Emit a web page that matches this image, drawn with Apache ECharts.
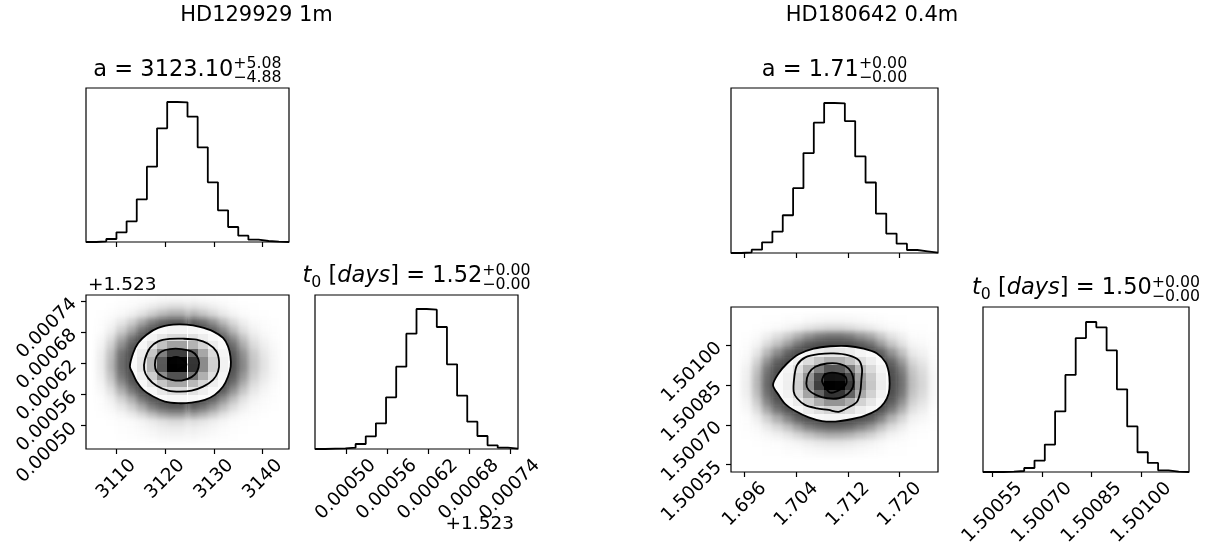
<!DOCTYPE html>
<html>
<head>
<meta charset="utf-8">
<script src="https://cdn.jsdelivr.net/npm/echarts@6.0.0/dist/echarts.min.js"></script>
<style>
  html, body { margin: 0; padding: 0; background: #fff; }
  #stage { position: relative; width: 1215px; height: 552px; overflow: hidden; background: #fff; }
  .cloud { position: absolute; overflow: hidden; }
  .cloud > div { position: absolute; left: 0; top: 0; width: 100%; height: 100%; filter: blur(2.5px); }
  #main { position: absolute; left: 0; top: 0; width: 1215px; height: 552px; }
</style>
</head>
<body>
<div id="stage">
  <div class="cloud" id="cloudL"><div id="cloudLc"></div></div>
  <div class="cloud" id="cloudR"><div id="cloudRc"></div></div>
  <div id="main"></div>
</div>
<script>
// ---- posterior samples, binned (20 bins over each parameter's full range) ----
const leftAHist   = [0, 2, 9, 29, 62, 128, 226, 341, 420, 419, 376, 284, 179, 95, 45, 19, 7, 3, 1, 0];
const leftT0Hist  = [0, 1, 2, 4, 15, 38, 77, 155, 247, 346, 420, 418, 366, 254, 160, 82, 39, 11, 4, 1];
const rightAHist  = [0, 2, 10, 32, 64, 113, 194, 299, 390, 449, 448, 395, 289, 211, 118, 58, 28, 9, 5, 1];
const rightT0Hist = [0, 0, 1, 3, 12, 34, 82, 181, 290, 400, 448, 432, 363, 247, 136, 59, 27, 5, 1, 0];

// sample ranges
const leftARange   = [3103.80, 3145.39];
const leftT0Range  = [1.523455, 1.523752];
const rightARange  = [1.69388, 1.72594];
const rightT0Range = [1.500522, 1.501144];

// tick values
const leftATicks   = [3110, 3120, 3130, 3140];
const leftT0Ticks  = [1.52350, 1.52356, 1.52362, 1.52368, 1.52374];
const leftT0Offset = 1.523;
const rightATicks  = [1.696, 1.704, 1.712, 1.720];
const rightT0Ticks = [1.50055, 1.50070, 1.50085, 1.50100];

// median, +err, -err
const leftAStat   = [3123.10, 5.08, 4.88];
const leftT0Stat  = [1.523615, 0.00003, 0.00003];
const rightAStat  = [1.7098, 0.0042, 0.0041];
const rightT0Stat = [1.500855, 0.00006, 0.00006];

const starNames = ['HD129929 1m', 'HD180642 0.4m'];

// 2-D credible contours (0.5, 1, 1.5, 2 sigma), outermost first: [a, t0]
const leftContours = [
  [[3112.80,1.5236141],[3113.47,1.5236401],[3114.49,1.5236594],[3116.21,1.5236755],[3118.58,1.5236885],[3121.65,1.5236948],[3124.39,1.5236948],[3127.11,1.5236904],[3129.83,1.5236819],[3131.88,1.5236691],[3132.90,1.5236528],[3133.39,1.5236335],[3133.45,1.5236141],[3132.90,1.5235948],[3131.88,1.5235754],[3130.18,1.5235594],[3128.14,1.5235497],[3125.42,1.5235445],[3122.68,1.5235433],[3119.96,1.5235464],[3117.56,1.5235561],[3115.52,1.5235690],[3114.17,1.5235851],[3113.35,1.5236014]],
  [[3115.73,1.5236077],[3115.86,1.5236271],[3116.89,1.5236497],[3118.58,1.5236625],[3120.98,1.5236672],[3123.70,1.5236677],[3126.44,1.5236658],[3128.81,1.5236581],[3130.53,1.5236432],[3131.06,1.5236238],[3130.86,1.5236045],[3129.83,1.5235884],[3127.79,1.5235754],[3125.42,1.5235677],[3123.02,1.5235657],[3120.63,1.5235677],[3118.26,1.5235768],[3116.54,1.5235917]],
  [[3117.91,1.5236174],[3118.26,1.5236335],[3119.28,1.5236432],[3120.98,1.5236478],[3123.37,1.5236478],[3125.42,1.5236432],[3126.56,1.5236335],[3126.97,1.5236207],[3126.56,1.5236045],[3125.42,1.5235936],[3123.37,1.5235870],[3121.33,1.5235884],[3119.48,1.5235948],[3118.26,1.5236045]],
  [[3120.63,1.5236219],[3121.33,1.5236304],[3122.68,1.5236323],[3123.70,1.5236271],[3124.39,1.5236174],[3123.37,1.5236110],[3122.00,1.5236077],[3120.98,1.5236130]]
];
const rightContours = [
  [[1.700388,1.500850],[1.701265,1.500894],[1.702556,1.500931],[1.704361,1.500966],[1.706684,1.500987],[1.709265,1.500996],[1.711846,1.500997],[1.714426,1.500987],[1.716491,1.500969],[1.717781,1.500937],[1.718297,1.500900],[1.718452,1.500856],[1.718297,1.500818],[1.717626,1.500783],[1.716491,1.500756],[1.714426,1.500733],[1.711846,1.500718],[1.710039,1.500712],[1.707975,1.500714],[1.705910,1.500728],[1.703846,1.500752],[1.702297,1.500778],[1.701265,1.500812]],
  [[1.703587,1.500825],[1.703691,1.500881],[1.704104,1.500925],[1.705394,1.500954],[1.707458,1.500966],[1.709781,1.500969],[1.712103,1.500962],[1.713652,1.500944],[1.714169,1.500912],[1.714065,1.500868],[1.713910,1.500825],[1.713395,1.500787],[1.712103,1.500766],[1.710555,1.500749],[1.709007,1.500756],[1.707201,1.500762],[1.705394,1.500774],[1.704104,1.500800]],
  [[1.705549,1.500856],[1.705910,1.500894],[1.706943,1.500919],[1.708749,1.500931],[1.710813,1.500929],[1.712103,1.500912],[1.712775,1.500881],[1.712775,1.500843],[1.711949,1.500816],[1.710555,1.500800],[1.708749,1.500800],[1.707097,1.500812],[1.705910,1.500831]],
  [[1.707975,1.500866],[1.708491,1.500891],[1.710039,1.500896],[1.711588,1.500881],[1.711742,1.500856],[1.710813,1.500833],[1.709265,1.500821],[1.708491,1.500841]]
];

// ---- layout ----
const PANEL = {
  lTop:  [86, 88, 203, 154],
  l2d:   [86, 295, 203, 154],
  lSide: [315, 295, 203, 154],
  rTop:  [731, 88, 207, 165],
  r2d:   [731, 307, 207, 165],
  rSide: [983, 307, 206, 165]
};
const FAMILY = 'DejaVu Sans';
const TICK_FS = 18.5, TITLE_FS = 22.5, SCRIPT_FS = 15.75, SUPTITLE_FS = 21;

// ---- helpers ----
const maxOf = a => Math.max.apply(null, a);

// joint density table of the two (uncorrelated) parameters, one cell per bin pair
function jointCells(hx, hy, xr, yr) {
  const mx = maxOf(hx), my = maxOf(hy);
  const dx = (xr[1] - xr[0]) / hx.length, dy = (yr[1] - yr[0]) / hy.length;
  const cells = [];
  for (let i = 0; i < hx.length; i++) {
    for (let j = 0; j < hy.length; j++) {
      cells.push([xr[0] + (i + 0.5) * dx, yr[0] + (j + 0.5) * dy, (hx[i] / mx) * (hy[j] / my), dx, dy]);
    }
  }
  return cells;
}

function cellSeries(xi, yi, cells, colorOf, z) {
  return {
    type: 'custom', xAxisIndex: xi, yAxisIndex: yi, z: z, clip: true, silent: true,
    data: cells,
    renderItem: function (params, api) {
      const cx = api.value(0), cy = api.value(1), t = api.value(2), dx = api.value(3), dy = api.value(4);
      const p0 = api.coord([cx - dx / 2, cy - dy / 2]);
      const p1 = api.coord([cx + dx / 2, cy + dy / 2]);
      const x0 = Math.round(p0[0]), x1 = Math.round(p1[0]);
      const y0 = Math.round(p1[1]), y1 = Math.round(p0[1]);
      return { type: 'rect', shape: { x: x0, y: y0, width: x1 - x0, height: y1 - y0 }, style: { fill: colorOf(t) } };
    }
  };
}

function contourSeries(xi, yi, contours, filled, z) {
  const list = filled ? contours.slice(0, 1) : contours;
  return {
    type: 'custom', xAxisIndex: xi, yAxisIndex: yi, z: z, clip: true, silent: true,
    data: list.map((c, k) => [c[0][0], c[0][1], k]),
    renderItem: function (params, api) {
      const pts = list[api.value(2)].map(p => api.coord(p));
      return {
        type: 'polygon',
        shape: { points: pts, smooth: 0.3 },
        style: filled ? { fill: '#fff', stroke: null } : { fill: null, stroke: '#000', lineWidth: 1.8 }
      };
    }
  };
}

function histOutline(h, r) {
  const w = (r[1] - r[0]) / h.length;
  const pts = [[r[0], 0]];
  h.forEach((c, i) => pts.push([r[0] + i * w, c]));
  pts.push([r[1], h[h.length - 1]]);
  pts.push([r[1], 0]);
  return pts;
}

function histSeries(xi, yi, h, r) {
  return {
    type: 'line', xAxisIndex: xi, yAxisIndex: yi, data: histOutline(h, r), step: 'end',
    symbol: 'none', silent: true, z: 3, lineStyle: { color: '#000', width: 1.8 }
  };
}

function gridOf(p) {
  return { left: p[0], top: p[1], width: p[2], height: p[3], show: true, borderColor: '#000', borderWidth: 1.2, backgroundColor: 'transparent', containLabel: false };
}

// text measuring for rotated tick labels and titles with stacked super/subscripts
const mctx = document.createElement('canvas').getContext('2d');
function fontStr(size, italic) { return (italic ? 'italic ' : '') + size + 'px "' + FAMILY + '"'; }
function textWidth(text, size, italic) { mctx.font = fontStr(size, italic); return mctx.measureText(text).width; }

function tickedAxis(gi, range, ticks, labelOpt) {
  return {
    type: 'value', gridIndex: gi, min: range[0], max: range[1],
    axisLine: { show: false }, splitLine: { show: false },
    axisTick: { show: true, inside: false, length: 5, lineStyle: { color: '#000', width: 1.2 }, customValues: ticks },
    axisLabel: labelOpt
      ? Object.assign({ show: true, customValues: ticks, rotate: 45, fontSize: TICK_FS, fontFamily: FAMILY, color: '#000' }, labelOpt)
      : { show: false }
  };
}
// 45-degree labels whose rotated box is centred under the tick
function centeredBottomLabel(formatter, sample) {
  const half = 0.3536 * (textWidth(formatter(sample), TICK_FS) + 0.7 * TICK_FS);
  return { formatter: formatter, align: 'center', verticalAlign: 'middle', margin: 9 + half };
}
function hiddenAxis(gi, max) {
  return { type: 'value', gridIndex: gi, min: 0, max: max, show: false };
}

function textEl(text, x, baseline, size, italic, align) {
  return {
    type: 'text', x: x, y: baseline - 0.346 * size, silent: true,
    style: { text: text, font: fontStr(size, italic), fill: '#000', align: align || 'left', textAlign: align || 'left', verticalAlign: 'middle', textVerticalAlign: 'middle' }
  };
}
function statTitle(pieces, stat, cx, baseline) {
  const sup = '+' + stat[1].toFixed(2), sub = '\u2212' + stat[2].toFixed(2);
  const widths = pieces.map(p => textWidth(p.text, p.size || TITLE_FS, p.italic));
  const wMain = widths.reduce((a, b) => a + b, 0);
  const wScript = Math.max(textWidth(sup, SCRIPT_FS), textWidth(sub, SCRIPT_FS));
  let x = cx - (wMain + wScript) / 2;
  const els = [];
  pieces.forEach((p, k) => { els.push(textEl(p.text, x, baseline + (p.dy || 0), p.size || TITLE_FS, p.italic)); x += widths[k]; });
  els.push(textEl(sup, x, baseline - 8, SCRIPT_FS));
  els.push(textEl(sub, x, baseline + 6, SCRIPT_FS));
  return els;
}
function t0Pieces(v) {
  return [
    { text: 't', italic: true },
    { text: '0', size: SCRIPT_FS, dy: 4 },
    { text: ' [' },
    { text: 'days', italic: true },
    { text: '] = ' + v.toFixed(2) }
  ];
}
const centerX = p => p[0] + p[2] / 2;

// ---- main figure ----
const pcolor = t => { const v = Math.round(255 * (1 - t)); return 'rgba(' + v + ',' + v + ',' + v + ',' + t.toFixed(4) + ')'; };
const leftCells = jointCells(leftAHist, leftT0Hist, leftARange, leftT0Range);
const rightCells = jointCells(rightAHist, rightT0Hist, rightARange, rightT0Range);

const fmtA = v => v.toFixed(0);
const fmtT0L = v => (v - leftT0Offset).toFixed(5);
const fmtAR = v => v.toFixed(3);
const fmtT0R = v => v.toFixed(5);

const graphics = [].concat(
  [textEl(starNames[0], 256.5, 22.7, SUPTITLE_FS, false, 'center'),
   textEl(starNames[1], 872, 22.7, SUPTITLE_FS, false, 'center')],
  statTitle([{ text: 'a = ' + leftAStat[0].toFixed(2) }], leftAStat, centerX(PANEL.lTop), PANEL.lTop[1] - 10.5),
  statTitle(t0Pieces(leftT0Stat[0]), leftT0Stat, centerX(PANEL.lSide), PANEL.lSide[1] - 11),
  statTitle([{ text: 'a = ' + rightAStat[0].toFixed(2) }], rightAStat, centerX(PANEL.rTop), PANEL.rTop[1] - 10.5),
  statTitle(t0Pieces(rightT0Stat[0]), rightT0Stat, centerX(PANEL.rSide), PANEL.rSide[1] - 11),
  [textEl('+' + leftT0Offset.toFixed(3), PANEL.l2d[0] + 2, PANEL.l2d[1] - 3.5, TICK_FS, false, 'left'),
   textEl('+' + leftT0Offset.toFixed(3), PANEL.lSide[0] + PANEL.lSide[2] - 4, 531, TICK_FS, false, 'right')]
);

const option = {
  animation: false,
  backgroundColor: 'transparent',
  grid: [gridOf(PANEL.lTop), gridOf(PANEL.l2d), gridOf(PANEL.lSide), gridOf(PANEL.rTop), gridOf(PANEL.r2d), gridOf(PANEL.rSide)],
  xAxis: [
    tickedAxis(0, leftARange, leftATicks, null),
    tickedAxis(1, leftARange, leftATicks, centeredBottomLabel(fmtA, leftATicks[0])),
    tickedAxis(2, leftT0Range, leftT0Ticks, centeredBottomLabel(fmtT0L, leftT0Ticks[0])),
    tickedAxis(3, rightARange, rightATicks, null),
    tickedAxis(4, rightARange, rightATicks, centeredBottomLabel(fmtAR, rightATicks[0])),
    tickedAxis(5, rightT0Range, rightT0Ticks, centeredBottomLabel(fmtT0R, rightT0Ticks[0]))
  ],
  yAxis: [
    hiddenAxis(0, 1.1 * maxOf(leftAHist)),
    tickedAxis(1, leftT0Range, leftT0Ticks, { formatter: fmtT0L, margin: 12 }),
    hiddenAxis(2, 1.1 * maxOf(leftT0Hist)),
    hiddenAxis(3, 1.1 * maxOf(rightAHist)),
    tickedAxis(4, rightT0Range, rightT0Ticks, { formatter: fmtT0R, margin: 12 }),
    hiddenAxis(5, 1.1 * maxOf(rightT0Hist))
  ],
  graphic: { elements: graphics },
  series: [
    histSeries(0, 0, leftAHist, leftARange),
    histSeries(2, 2, leftT0Hist, leftT0Range),
    histSeries(3, 3, rightAHist, rightARange),
    histSeries(5, 5, rightT0Hist, rightT0Range),
    contourSeries(1, 1, leftContours, true, 1),
    cellSeries(1, 1, leftCells, pcolor, 2),
    contourSeries(1, 1, leftContours, false, 3),
    contourSeries(4, 4, rightContours, true, 1),
    cellSeries(4, 4, rightCells, pcolor, 2),
    contourSeries(4, 4, rightContours, false, 3)
  ]
};
echarts.init(document.getElementById('main'), null, { renderer: 'canvas' }).setOption(option);

// ---- sample cloud beneath the 2-D panels ----
const haze = t => 'rgba(35,35,35,' + (1 - Math.exp(-18 * t)).toFixed(4) + ')';
function cloudChart(wrapId, innerId, p, xr, yr, cells) {
  const wrap = document.getElementById(wrapId);
  wrap.style.left = p[0] + 'px'; wrap.style.top = p[1] + 'px';
  wrap.style.width = p[2] + 'px'; wrap.style.height = p[3] + 'px';
  const chart = echarts.init(document.getElementById(innerId), null, { width: p[2], height: p[3] });
  chart.setOption({
    animation: false,
    grid: { left: 0, top: 0, right: 0, bottom: 0, containLabel: false },
    xAxis: { type: 'value', min: xr[0], max: xr[1], show: false },
    yAxis: { type: 'value', min: yr[0], max: yr[1], show: false },
    series: [cellSeries(0, 0, cells, haze, 1)]
  });
}
cloudChart('cloudL', 'cloudLc', PANEL.l2d, leftARange, leftT0Range, leftCells);
cloudChart('cloudR', 'cloudRc', PANEL.r2d, rightARange, rightT0Range, rightCells);
</script>
</body>
</html>
